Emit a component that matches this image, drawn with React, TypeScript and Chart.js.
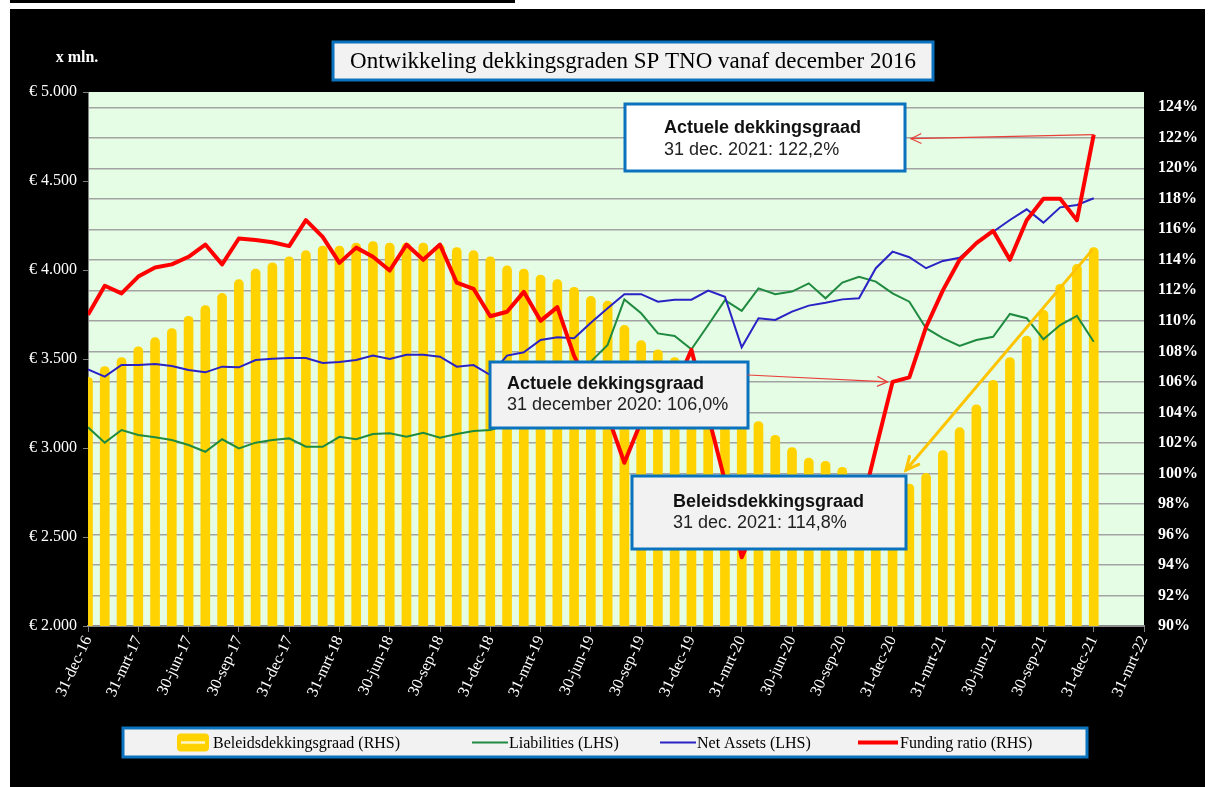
import { useEffect, useRef } from 'react';
import { Chart, registerables } from 'chart.js';

Chart.register(...registerables);

// ---------- data ----------
const xTickLabels = [
  '31-dec-16', '31-mrt-17', '30-jun-17', '30-sep-17', '31-dec-17', '31-mrt-18', '30-jun-18', '30-sep-18',
  '31-dec-18', '31-mrt-19', '30-jun-19', '30-sep-19', '31-dec-19', '31-mrt-20', '30-jun-20', '30-sep-20',
  '31-dec-20', '31-mrt-21', '30-jun-21', '30-sep-21', '31-dec-21', '31-mrt-22',
];
const leftTickLabels = ['€ 2.000', '€ 2.500', '€ 3.000', '€ 3.500', '€ 4.000', '€ 4.500', '€ 5.000'];

// monthly values, 31-dec-16 .. 31-dec-21
const beleidsdekkingsgraad = [
  106.3, 107.0, 107.6, 108.3, 108.9, 109.5, 110.3, 111.0, 111.8, 112.7, 113.4, 113.8,
  114.2, 114.6, 114.9, 114.9, 115.1, 115.2, 115.1, 115.1, 115.1, 115.0, 114.8, 114.6,
  114.2, 113.6, 113.4, 113.0, 112.7, 112.2, 111.6, 111.3, 109.7, 108.7, 108.1, 107.6,
  106.8, 106.0, 105.0, 104.2, 103.4, 102.5, 101.7, 101.0, 100.8, 100.4, 99.7, 99.5,
  99.4, 99.3, 100.0, 101.5, 103.0, 104.5, 106.1, 107.6, 109.0, 110.7, 112.4, 113.7,
  114.8,
];
const liabilities = [
  3116, 3030, 3101, 3073, 3060, 3045, 3017, 2979, 3049, 2998, 3030, 3045,
  3054, 3007, 3007, 3063, 3049, 3079, 3083, 3063, 3086, 3058, 3079, 3096,
  3101, 3130, 3180, 3250, 3300, 3390, 3485, 3579, 3835, 3757, 3644, 3629,
  3555, 3691, 3831, 3770, 3897, 3864, 3879, 3925, 3841, 3929, 3962, 3935,
  3869, 3822, 3673, 3617, 3573, 3607, 3625, 3753, 3729, 3611, 3691, 3742,
  3597,
];
const netAssets = [
  3442, 3401, 3466, 3466, 3472, 3461, 3438, 3425, 3457, 3453, 3494, 3502,
  3506, 3506, 3478, 3483, 3494, 3519, 3500, 3524, 3524, 3513, 3457, 3466,
  3410, 3519, 3538, 3607, 3622, 3617, 3704, 3785, 3864, 3864, 3822, 3833,
  3833, 3884, 3850, 3566, 3729, 3719, 3766, 3800, 3816, 3835, 3841, 4010,
  4103, 4072, 4010, 4051, 4069, 4150, 4215, 4281, 4341, 4266, 4352, 4365,
  4403,
];
const fundingRatio = [
  110.4, 112.3, 111.8, 112.9, 113.5, 113.7, 114.2, 115.0, 113.7, 115.4, 115.3, 115.15,
  114.9, 116.6, 115.5, 113.8, 114.8, 114.2, 113.3, 115.0, 114.0, 115.0, 112.5, 112.1,
  110.3, 110.6, 111.9, 110.0, 110.9, 107.7, 105.5, 103.8, 100.7, 103.4, 105.0, 105.6,
  108.1, 103.8, 99.5, 94.5, 97.0, 97.8, 97.4, 98.2, 98.0, 97.3, 97.1, 101.6,
  106.0, 106.3, 109.6, 112.0, 114.0, 115.1, 115.9, 114.0, 116.6, 118.0, 118.0, 116.6,
  122.2,
];

const seriesNames = ['Beleidsdekkingsgraad (RHS)', 'Liabilities (LHS)', 'Net Assets (LHS)', 'Funding ratio (RHS)'];
const titleText = 'Ontwikkeling dekkingsgraden SP TNO vanaf december 2016';
const unitText = 'x mln.';
const noteLatest = ['Actuele dekkingsgraad', '31 dec. 2021: 122,2%'];
const notePrevYear = ['Actuele dekkingsgraad', '31 december 2020: 106,0%'];
const notePolicy = ['Beleidsdekkingsgraad', '31 dec. 2021: 114,8%'];

// ---------- styles / layout ----------
const W = 1195;
const H = 778;
const SERIF = '"Liberation Serif", "Times New Roman", serif';
const SANS = '"Liberation Sans", Arial, sans-serif';
const BOX_BLUE = '#0B72BE';
const BAR_COLOR = '#FFD200';
const GREEN = '#1F8A40';
const BLUE = '#2A22C4';
const RED = '#FF0000';

const box1 = { x: 615, y: 95, w: 280, h: 67, fill: '#FFFFFF', tx: 654 };
const box2 = { x: 480, y: 353, w: 258, h: 66, fill: '#F2F2F2', tx: 497 };
const box3 = { x: 622, y: 467, w: 274, h: 73, fill: '#F2F2F2', tx: 663 };
const legendItemX = [166, 462, 650, 848];

const idx = (arr: number[]) => arr.map((v, i) => ({ x: i, y: v }));

function drawArrow(ctx: CanvasRenderingContext2D, x1: number, y1: number, x2: number, y2: number, color: string, width: number, head: number) {
  ctx.save();
  ctx.strokeStyle = color;
  ctx.lineWidth = width;
  ctx.lineCap = 'round';
  ctx.beginPath();
  ctx.moveTo(x1, y1);
  ctx.lineTo(x2, y2);
  ctx.stroke();
  const a = Math.atan2(y2 - y1, x2 - x1);
  ctx.beginPath();
  ctx.moveTo(x2 - head * Math.cos(a - 0.45), y2 - head * Math.sin(a - 0.45));
  ctx.lineTo(x2, y2);
  ctx.lineTo(x2 - head * Math.cos(a + 0.45), y2 - head * Math.sin(a + 0.45));
  ctx.stroke();
  ctx.restore();
}

function drawNote(ctx: CanvasRenderingContext2D, b: any, lines: string[], y1: number, y2: number) {
  ctx.save();
  ctx.fillStyle = b.fill;
  ctx.fillRect(b.x, b.y, b.w, b.h);
  ctx.strokeStyle = BOX_BLUE;
  ctx.lineWidth = 3;
  ctx.strokeRect(b.x, b.y, b.w, b.h);
  ctx.fillStyle = '#111111';
  ctx.textAlign = 'left';
  ctx.textBaseline = 'middle';
  ctx.font = `bold 18px ${SANS}`;
  ctx.fillText(lines[0], b.tx, y1);
  ctx.font = `18px ${SANS}`;
  ctx.fillStyle = '#222222';
  ctx.fillText(lines[1], b.tx, y2);
  ctx.restore();
}

const plotBackground = {
  id: 'plotBackground',
  beforeDraw(chart: any) {
    const { ctx, chartArea } = chart;
    ctx.save();
    ctx.fillStyle = '#E4FDE4';
    ctx.fillRect(chartArea.left, chartArea.top, chartArea.right - chartArea.left, chartArea.bottom - chartArea.top);
    ctx.restore();
  },
};

const decorations = {
  id: 'decorations',
  afterDraw(chart: any) {
    const { ctx } = chart;
    const xs = chart.scales.x;
    const yr = chart.scales.y1;
    const last = fundingRatio.length - 1;

    // title box
    ctx.save();
    ctx.fillStyle = '#F2F2F2';
    ctx.fillRect(323, 33, 600, 38);
    ctx.strokeStyle = BOX_BLUE;
    ctx.lineWidth = 3;
    ctx.strokeRect(323, 33, 600, 38);
    ctx.fillStyle = '#000000';
    ctx.font = `23px ${SERIF}`;
    ctx.textAlign = 'center';
    ctx.textBaseline = 'middle';
    ctx.fillText(titleText, 623, 53);
    // unit
    ctx.fillStyle = '#FFFFFF';
    ctx.font = `bold 16px ${SERIF}`;
    ctx.fillText(unitText, 67, 49);
    ctx.restore();

    // notes
    drawNote(ctx, box1, noteLatest, box1.y + 24, box1.y + 46);
    drawNote(ctx, box2, notePrevYear, box2.y + 22, box2.y + 43);
    drawNote(ctx, box3, notePolicy, box3.y + 26, box3.y + 47);

    // arrows
    const xl = xs.getPixelForValue(last);
    drawArrow(ctx, xl, yr.getPixelForValue(fundingRatio[last]), box1.x + box1.w + 6, yr.getPixelForValue(fundingRatio[last]) + 4, '#E8403A', 1.2, 11);
    const x48 = xs.getPixelForValue(48);
    drawArrow(ctx, box2.x + box2.w, box2.y + 13, x48 - 5, yr.getPixelForValue(fundingRatio[48]), '#E8403A', 1.2, 11);
    drawArrow(ctx, xl - 2, yr.getPixelForValue(beleidsdekkingsgraad[last]) + 3, box3.x + box3.w, box3.y - 6, '#FFC400', 3, 14);

    // legend
    ctx.save();
    ctx.fillStyle = '#F2F2F2';
    ctx.fillRect(113, 719, 964, 29);
    ctx.strokeStyle = BOX_BLUE;
    ctx.lineWidth = 3;
    ctx.strokeRect(113, 719, 964, 29);
    const cy = 733.5;
    chart.data.datasets.forEach((ds: any, i: number) => {
      const x = legendItemX[i];
      if (ds.type === 'bar') {
        ctx.fillStyle = ds.backgroundColor;
        ctx.beginPath();
        ctx.roundRect(x + 1, cy - 9, 32, 18, 4);
        ctx.fill();
        ctx.strokeStyle = '#FFF6C8';
        ctx.lineWidth = 2.5;
        ctx.beginPath();
        ctx.moveTo(x + 5, cy);
        ctx.lineTo(x + 29, cy);
        ctx.stroke();
      } else {
        ctx.strokeStyle = ds.borderColor;
        ctx.lineWidth = ds.borderWidth;
        ctx.beginPath();
        ctx.moveTo(x, cy);
        ctx.lineTo(x + (ds.borderWidth > 3 ? 40 : 36), cy);
        ctx.stroke();
      }
      ctx.fillStyle = '#000000';
      ctx.font = `16px ${SERIF}`;
      ctx.textAlign = 'left';
      ctx.textBaseline = 'middle';
      ctx.fillText(ds.label, x + (ds.borderWidth > 3 ? 42 : 37), cy + 1);
    });
    ctx.restore();
  },
};

export default function App() {
  const ref = useRef<HTMLCanvasElement | null>(null);

  useEffect(() => {
    if (!ref.current) return;
    const chart = new Chart(ref.current, {
      type: 'bar',
      data: {
        datasets: [
          {
            type: 'bar',
            label: seriesNames[0],
            data: idx(beleidsdekkingsgraad),
            yAxisID: 'y1',
            backgroundColor: BAR_COLOR,
            barThickness: 9,
            borderRadius: { topLeft: 5, topRight: 5, bottomLeft: 0, bottomRight: 0 },
            borderSkipped: 'start',
            order: 4,
          } as any,
          {
            type: 'line',
            label: seriesNames[1],
            data: idx(liabilities),
            yAxisID: 'y',
            borderColor: GREEN,
            borderWidth: 2,
            pointRadius: 0,
            tension: 0,
            order: 3,
          },
          {
            type: 'line',
            label: seriesNames[2],
            data: idx(netAssets),
            yAxisID: 'y',
            borderColor: BLUE,
            borderWidth: 2,
            pointRadius: 0,
            tension: 0,
            order: 2,
          },
          {
            type: 'line',
            label: seriesNames[3],
            data: idx(fundingRatio),
            yAxisID: 'y1',
            borderColor: RED,
            borderWidth: 4,
            borderJoinStyle: 'round',
            pointRadius: 0,
            tension: 0,
            order: 1,
          },
        ],
      },
      options: {
        responsive: false,
        animation: false,
        devicePixelRatio: 1,
        layout: { padding: { top: 83, left: 0, right: 0, bottom: 0 } },
        plugins: {
          legend: { display: false },
          tooltip: { enabled: false },
          title: { display: false },
        },
        scales: {
          x: {
            type: 'linear',
            offset: false,
            min: 0,
            max: (xTickLabels.length - 1) * 3,
            afterFit: (s: any) => { s.height = 161; },
            ticks: {
              stepSize: 3,
              autoSkip: false,
              minRotation: 65,
              maxRotation: 65,
              color: '#FFFFFF',
              padding: 1,
              font: { family: SERIF, size: 16 },
              callback: (v: any) => xTickLabels[Math.round(Number(v) / 3)] ?? '',
            },
            grid: { display: true, offset: false, drawOnChartArea: false, drawTicks: true, tickLength: 6, color: '#808080' },
            border: { color: '#8C8C8C', width: 2 },
          },
          y: {
            position: 'left',
            min: 2000,
            max: 5000,
            afterFit: (s: any) => { s.width = 78; },
            ticks: {
              stepSize: 500,
              color: '#FFFFFF',
              padding: 6,
              font: { family: SERIF, size: 16 },
              callback: (v: any) => leftTickLabels[Math.round((Number(v) - 2000) / 500)] ?? '',
            },
            grid: { drawOnChartArea: false, drawTicks: true, tickLength: 5, color: '#808080' },
            border: { color: '#808080', width: 1 },
          },
          y1: {
            position: 'right',
            min: 90,
            max: 125,
            afterFit: (s: any) => { s.width = 61; },
            ticks: {
              stepSize: 2,
              includeBounds: false,
              color: '#FFFFFF',
              padding: 14,
              font: { family: SERIF, size: 16, weight: 'bold' },
              callback: (v: any) => `${v}%`,
            },
            grid: { color: '#A3A3A3', lineWidth: 1.5, drawTicks: false },
            border: { display: false },
          },
        },
      } as any,
      plugins: [plotBackground, decorations],
    });
    return () => chart.destroy();
  }, []);

  return (
    <div style={{ position: 'fixed', left: 0, top: 0, width: 1211, height: 787, background: '#FFFFFF', overflow: 'hidden' }}>
      <div style={{ position: 'absolute', left: 10, top: 0, width: 505, height: 3, background: '#000000' }} />
      <div style={{ position: 'absolute', left: 10, top: 9, width: W, height: H, background: '#000000' }}>
        <canvas ref={ref} width={W} height={H} style={{ display: 'block', width: W, height: H }} />
      </div>
    </div>
  );
}
